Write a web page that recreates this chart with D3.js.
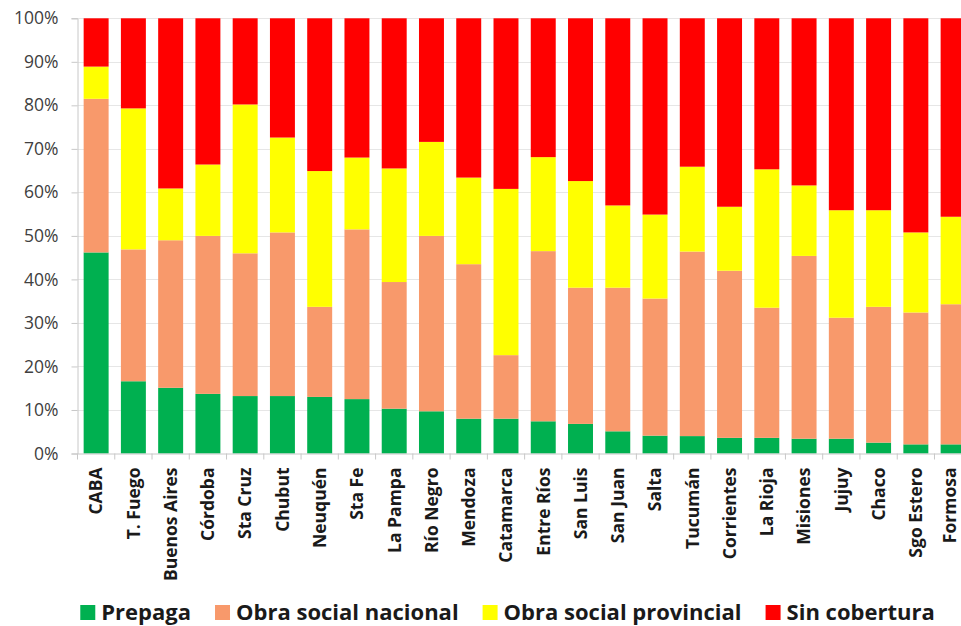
<!DOCTYPE html>
<html>
<head>
<meta charset="utf-8">
<script src="https://cdn.jsdelivr.net/npm/d3@7"></script>
<style>
  html, body { margin: 0; padding: 0; background: #fff; overflow: hidden; }
  svg { display: block; }
</style>
</head>
<body>
<svg id="chart" width="961" height="626"></svg>
<script>
// ---- Data (percent of population, by coverage type) ----
const provinces = ["CABA", "T. Fuego", "Buenos Aires", "Córdoba", "Sta Cruz", "Chubut", "Neuquén", "Sta Fe",
  "La Pampa", "Río Negro", "Mendoza", "Catamarca", "Entre Ríos", "San Luis", "San Juan", "Salta",
  "Tucumán", "Corrientes", "La Rioja", "Misiones", "Jujuy", "Chaco", "Sgo Estero", "Formosa"];
const seriesNames = ["Prepaga", "Obra social nacional", "Obra social provincial", "Sin cobertura"];
const prepaga    = [46.2, 16.6, 15.1, 13.7, 13.2, 13.2, 13.0, 12.5, 10.3, 9.7, 8.0, 8.0, 7.4, 6.8, 5.1, 4.1, 4.0, 3.6, 3.6, 3.4, 3.4, 2.5, 2.1, 2.1];
const nacional   = [35.3, 30.3, 33.9, 36.3, 32.8, 37.6, 20.7, 39.0, 29.1, 40.3, 35.5, 14.6, 39.1, 31.3, 33.0, 31.5, 42.4, 38.4, 29.9, 42.0, 27.8, 31.2, 30.3, 32.2];
const provincial = [7.4, 32.4, 11.9, 16.4, 34.2, 21.8, 31.2, 16.5, 26.1, 21.6, 19.9, 38.2, 21.6, 24.5, 18.9, 19.3, 19.5, 14.7, 31.8, 16.2, 24.7, 22.2, 18.4, 20.1];
const sinCob     = [11.1, 20.7, 39.1, 33.6, 19.8, 27.4, 35.1, 32.0, 34.5, 28.4, 36.6, 39.2, 31.9, 37.4, 43.0, 45.1, 34.1, 43.3, 34.7, 38.4, 44.1, 44.1, 49.2, 45.6];
const yTicks = [0, 10, 20, 30, 40, 50, 60, 70, 80, 90, 100];
const colors = ["#00B050", "#F8996B", "#FFFF00", "#FF0000"];

// ---- Build table ----
const keys = ["prepaga", "nacional", "provincial", "sin"];
const rows = provinces.map((p, i) => ({
  name: p, prepaga: prepaga[i], nacional: nacional[i], provincial: provincial[i], sin: sinCob[i]
}));

const svg = d3.select("#chart");
const margin = { left: 77.5, top: 18.3, bottom: 453.5 };

const x = d3.scaleBand()
  .domain(provinces)
  .range([margin.left, margin.left + 24 * 37.26])
  .paddingInner(0.33)
  .paddingOuter(0.165);

const y = d3.scaleLinear().domain([0, 100]).range([margin.bottom, margin.top]);

// gridlines
svg.append("g")
  .selectAll("line")
  .data(yTicks.filter(d => d > 0))
  .join("line")
  .attr("x1", margin.left).attr("x2", 961)
  .attr("y1", d => Math.round(y(d)) + 0.5).attr("y2", d => Math.round(y(d)) + 0.5)
  .attr("stroke", "#e6e6e6").attr("stroke-width", 1);

// stacked bars
const stack = d3.stack().keys(keys);
const stacked = stack(rows);

svg.append("g")
  .selectAll("g")
  .data(stacked)
  .join("g")
  .attr("fill", (d, i) => colors[i])
  .selectAll("rect")
  .data(d => d)
  .join("rect")
  .attr("x", d => x(d.data.name))
  .attr("width", x.bandwidth())
  .attr("y", d => y(d[1]))
  .attr("height", d => y(d[0]) - y(d[1]));

// y axis
const yAxis = d3.axisLeft(y)
  .tickValues(yTicks)
  .tickFormat(d => d + "%")
  .tickSize(6)
  .tickPadding(13);

const gy = svg.append("g")
  .attr("transform", `translate(${margin.left},0)`)
  .call(yAxis);
gy.select(".domain").attr("stroke", "#c8c8c8");
gy.selectAll(".tick line").attr("stroke", "#c8c8c8");
gy.selectAll(".tick text")
  .attr("fill", "#404040")
  .style("font-family", "'Open Sans', sans-serif")
  .style("font-size", "17.5px");

// x axis
const gx = svg.append("g")
  .attr("transform", `translate(0,${margin.bottom})`)
  .call(d3.axisBottom(x).tickSize(0).tickPadding(0));
gx.select(".domain").attr("stroke", "#c8c8c8");

// between-category tick marks
const step = x.step();
gx.append("g")
  .selectAll("line")
  .data(d3.range(provinces.length + 1))
  .join("line")
  .attr("x1", i => margin.left + i * step)
  .attr("x2", i => margin.left + i * step)
  .attr("y1", 0).attr("y2", 6)
  .attr("stroke", "#c8c8c8");

const lastName = provinces[provinces.length - 1];
gx.selectAll(".tick text")
  .attr("transform", "rotate(-90)")
  .attr("text-anchor", "end")
  .attr("x", -14)
  .attr("y", d => d === lastName ? -3 : 0)
  .attr("dy", "0.36em")
  .attr("fill", "#1a1a1a")
  .style("font-family", "'Open Sans', sans-serif")
  .style("font-weight", "bold")
  .style("font-size", "17.5px");

// legend
const legend = svg.append("g").attr("class", "legend");
const items = legend.selectAll("g")
  .data(seriesNames)
  .join("g");
items.append("rect")
  .attr("width", 15).attr("height", 15)
  .attr("y", -15)
  .attr("fill", (d, i) => colors[i]);
items.append("text")
  .attr("x", 21)
  .attr("y", 0)
  .attr("fill", "#1a1a1a")
  .style("font-family", "'Open Sans', sans-serif")
  .style("font-weight", "bold")
  .style("font-size", "22px")
  .text(d => d);

let cursor = 0;
const gap = 24;
items.each(function() {
  const g = d3.select(this);
  g.attr("transform", `translate(${cursor},0)`);
  const w = 21 + g.select("text").node().getComputedTextLength();
  cursor += w + gap;
});
const totalW = cursor - gap;
legend.attr("transform", `translate(${507.5 - totalW / 2},620)`);
</script>
</body>
</html>
